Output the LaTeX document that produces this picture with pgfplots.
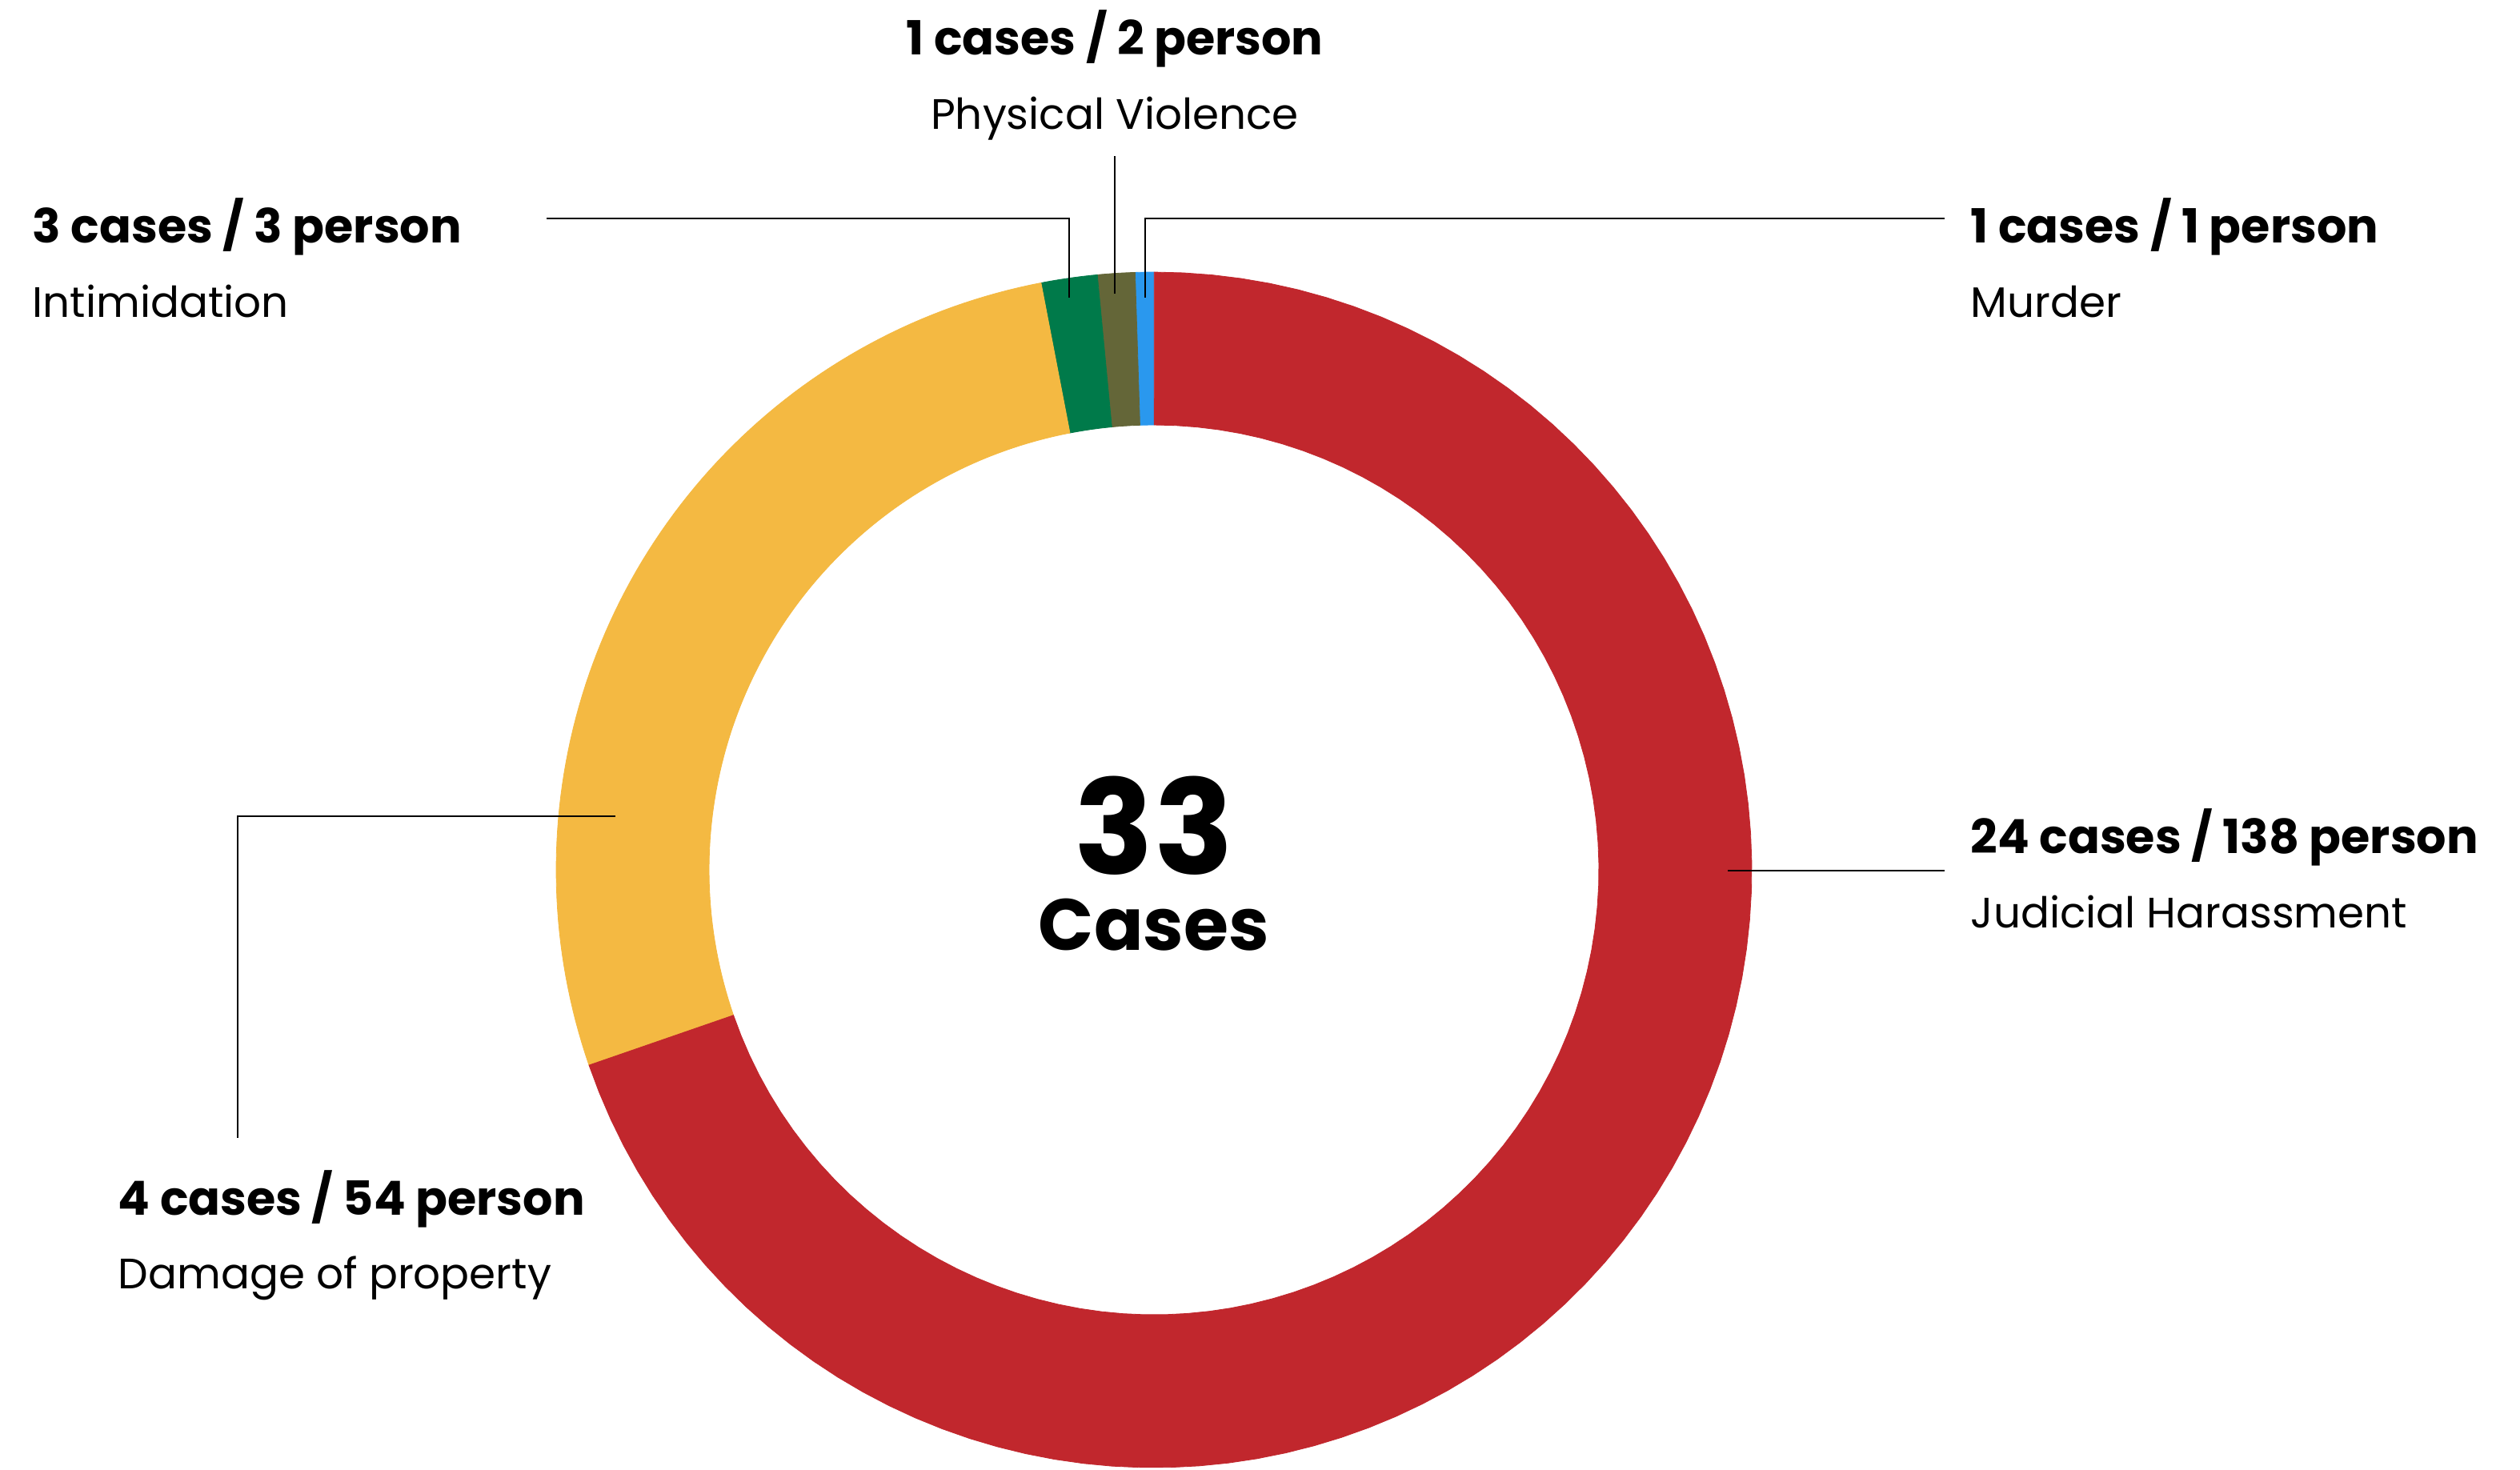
\documentclass[border=0pt]{standalone}
\usepackage{pgfplots}
\usepackage{pgfplotstable}
\pgfplotsset{compat=1.18}
\usepackage{fontspec}
\setmainfont{Poppins}
\definecolor{cred}{RGB}{193,39,45}
\definecolor{cyellow}{RGB}{244,185,66}
\definecolor{cgreen}{RGB}{0,122,74}
\definecolor{colive}{RGB}{100,102,56}
\definecolor{cblue}{RGB}{42,152,238}
\pgfplotstableread{
label value color
Murder 1 cblue
Physical 2 colive
Intimidation 3 cgreen
Damage 54 cyellow
Judicial 138 cred
}\data
\newcommand\bl{\bfseries\fontsize{14.7}{17}\selectfont}
\newcommand\rl{\fontsize{13.3}{16}\selectfont}
\begin{document}
\begin{tikzpicture}
\begin{axis}[
  width=787.25pt, height=459pt, scale only axis,
  xmin=0, xmax=3149, ymin=0, ymax=1836, y dir=reverse,
  hide axis, clip=false]
\path (axis cs:0,0) rectangle (axis cs:3149,1836);
\gdef\segtotal{0}
\pgfplotsforeachungrouped \i in {0,...,4}{%
  \pgfplotstablegetelem{\i}{value}\of\data
  \pgfmathsetmacro\newtotal{\segtotal+\pgfplotsretval}%
  \global\let\segtotal\newtotal
}
\gdef\cumangle{90}
\pgfplotsforeachungrouped \i in {0,...,4}{%
  \pgfplotstablegetelem{\i}{value}\of\data \let\segval\pgfplotsretval
  \pgfplotstablegetelem{\i}{color}\of\data \let\segcol\pgfplotsretval
  \pgfmathsetmacro\angA{\cumangle}%
  \pgfmathsetmacro\angB{\cumangle+(\segval/\segtotal)*360}%
  \gdef\pts{}%
  \pgfplotsforeachungrouped \k in {0,...,90}{%
    \pgfmathsetmacro\ang{\angA+(\angB-\angA)*(\k/90)}%
    \pgfmathsetmacro\px{1442+747*cos(\ang)}%
    \pgfmathsetmacro\py{1087-747*sin(\ang)}%
    \xdef\pts{\pts (\px,\py)}%
  }%
  \pgfplotsforeachungrouped \k in {0,...,90}{%
    \pgfmathsetmacro\ang{\angB-(\angB-\angA)*(\k/90)}%
    \pgfmathsetmacro\px{1442+556*cos(\ang)}%
    \pgfmathsetmacro\py{1087-556*sin(\ang)}%
    \xdef\pts{\pts (\px,\py)}%
  }%
  \edef\temp{\noexpand\addplot[fill=\segcol, draw=\segcol, line width=0.2pt, mark=none] coordinates {\pts} -- cycle;}%
  \temp
  \global\let\cumangle\angB
}
% leader lines
\draw[line width=0.7pt] (axis cs:683,273) -- (axis cs:1336,273) -- (axis cs:1336,372);
\draw[line width=0.7pt] (axis cs:1393,195) -- (axis cs:1393,367);
\draw[line width=0.7pt] (axis cs:2430,273) -- (axis cs:1431,273) -- (axis cs:1431,372);
\draw[line width=0.7pt] (axis cs:2159,1088) -- (axis cs:2430,1088);
\draw[line width=0.7pt] (axis cs:769,1020) -- (axis cs:297,1020) -- (axis cs:297,1422);
% labels
\node[anchor=base west, inner sep=0pt, font=\bl] at (axis cs:40,303) {3 cases / 3 person};
\node[anchor=base west, inner sep=0pt, font=\rl] at (axis cs:40,396) {Intimidation};
\node[anchor=base, inner sep=0pt, font=\bl] at (axis cs:1393,68) {1 cases / 2 person};
\node[anchor=base, inner sep=0pt, font=\rl] at (axis cs:1393,161) {Physical Violence};
\node[anchor=base west, inner sep=0pt, font=\bl] at (axis cs:2462,303) {1 cases / 1 person};
\node[anchor=base west, inner sep=0pt, font=\rl] at (axis cs:2462,396) {Murder};
\node[anchor=base west, inner sep=0pt, font=\bl] at (axis cs:2462,1066) {24 cases / 138 person};
\node[anchor=base west, inner sep=0pt, font=\rl] at (axis cs:2462,1159) {Judicial Harassment};
\node[anchor=base west, inner sep=0pt, font=\bl] at (axis cs:147,1518) {4 cases / 54 person};
\node[anchor=base west, inner sep=0pt, font=\rl] at (axis cs:147,1610) {Damage of property};
\node[anchor=base, inner sep=0pt, font=\bfseries\fontsize{41}{45}\selectfont] at (axis cs:1442,1092) {33};
\node[anchor=base, inner sep=0pt, font=\bfseries\fontsize{22.7}{26}\selectfont] at (axis cs:1442,1187) {Cases};
\end{axis}
\end{tikzpicture}
\end{document}
